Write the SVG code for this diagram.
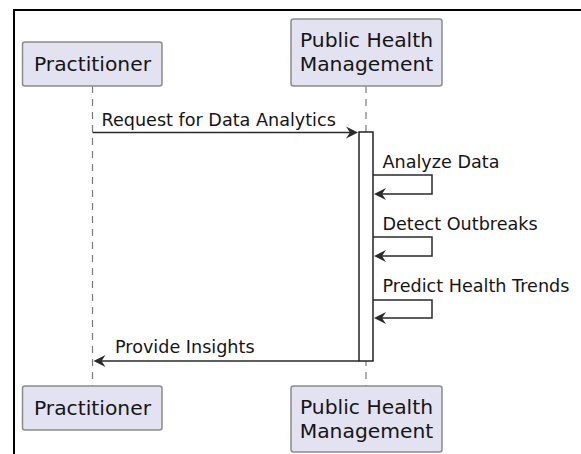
<svg xmlns="http://www.w3.org/2000/svg" width="581" height="454" viewBox="0 0 581 454">
  <defs>
    <style>
      .participant rect { fill: #E2E2F0; stroke: #8c8c8c; stroke-width: 1.5; }
      .participant text { font-family: "DejaVu Sans", sans-serif; font-size: 20.3px; fill: #151515; text-anchor: middle; }
      .lifeline { stroke: #7a7a7a; stroke-width: 1.2; stroke-dasharray: 7 6; fill: none; }
      .activation { fill: #ffffff; stroke: #222222; stroke-width: 1.5; }
      .msg { stroke: #2a2a2a; stroke-width: 1.5; fill: none; }
      .label { font-family: "DejaVu Sans", sans-serif; font-size: 17.6px; fill: #151515; }
      .head { fill: #2a2a2a; }
    </style>
  </defs>
  <rect width="581" height="454" fill="#ffffff"/>
  <!-- outer frame, running off the right and bottom edges -->
  <rect x="14" y="10" width="600" height="480" fill="none" stroke="#000000" stroke-width="2"/>

  <!-- lifelines -->
  <g id="lifelines">
    <line class="lifeline" x1="92.5" y1="86" x2="92.5" y2="386"/>
    <line class="lifeline" x1="366" y1="86" x2="366" y2="386"/>
  </g>

  <g id="activation">
    <rect class="activation" x="359" y="132" width="14" height="229"/>
  </g>

  <g id="connectors">
    <!-- Request for Data Analytics -->
    <line class="msg" x1="92.5" y1="132.5" x2="355" y2="132.5"/>
    <path class="head" d="M358 132.5 L346 126.5 L350 132.5 L346 138.5 Z"/>
    <text class="label" x="101.5" y="126">Request for Data Analytics</text>

    <!-- Analyze Data -->
    <polyline class="msg" points="373,175 432,175 432,194 376,194"/>
    <path class="head" d="M374 194 L386 188 L382 194 L386 200 Z"/>
    <text class="label" x="382.5" y="168">Analyze Data</text>

    <!-- Detect Outbreaks -->
    <polyline class="msg" points="373,237 432,237 432,256 376,256"/>
    <path class="head" d="M374 256 L386 250 L382 256 L386 262 Z"/>
    <text class="label" x="382.5" y="230">Detect Outbreaks</text>

    <!-- Predict Health Trends -->
    <polyline class="msg" points="373,300 432,300 432,318 376,318"/>
    <path class="head" d="M374 318 L386 312 L382 318 L386 324 Z"/>
    <text class="label" x="382.5" y="291.5">Predict Health Trends</text>

    <!-- Provide Insights -->
    <line class="msg" x1="359" y1="361" x2="96" y2="361"/>
    <path class="head" d="M93.5 361 L105.5 355 L101.5 361 L105.5 367 Z"/>
    <text class="label" x="115" y="353">Provide Insights</text>
  </g>

  <g id="practitioner-top" class="participant">
    <rect x="22.5" y="42" width="139.5" height="44" rx="2.5"/>
    <text x="92.5" y="71">Practitioner</text>
  </g>
  <g id="phm-top" class="participant">
    <rect x="291" y="19" width="151" height="67" rx="2.5"/>
    <text x="366.5" y="47">Public Health</text>
    <text x="366.5" y="71">Management</text>
  </g>
  <g id="practitioner-bottom" class="participant">
    <rect x="22.5" y="386" width="139.5" height="44" rx="2.5"/>
    <text x="92.5" y="415">Practitioner</text>
  </g>
  <g id="phm-bottom" class="participant">
    <rect x="291" y="386" width="151" height="66" rx="2.5"/>
    <text x="366.5" y="414">Public Health</text>
    <text x="366.5" y="438">Management</text>
  </g>
</svg>
